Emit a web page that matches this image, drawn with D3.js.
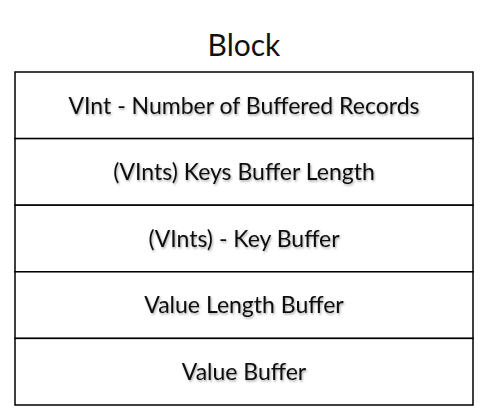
<!DOCTYPE html>
<html>
<head>
<meta charset="utf-8">
<script src="https://cdn.jsdelivr.net/npm/d3@7"></script>
<style>
body { margin: 0; background: #fff; }
text { font-family: Lato, "Open Sans", sans-serif; fill: #111; }
</style>
</head>
<body>
<svg id="chart" width="488" height="410"></svg>
<script>
var title = "Block";
var fields = [
    "VInt - Number of Buffered Records",
    "(VInts) Keys Buffer Length",
    "(VInts) - Key Buffer",
    "Value Length Buffer",
    "Value Buffer"
];

var svg = d3.select("#chart");
var boxLeft = 15, boxRight = 473, boxTop = 72, boxBottom = 405;

var y = d3.scaleBand().domain(fields).range([boxTop, boxBottom]).padding(0);

var defs = svg.append("defs");
var f = defs.append("filter").attr("id", "sh");
f.append("feDropShadow").attr("dx", 1).attr("dy", 1.5).attr("stdDeviation", 1)
    .attr("flood-color", "#000").attr("flood-opacity", 0.35);

svg.append("text")
    .attr("x", (boxLeft + boxRight) / 2)
    .attr("y", 56)
    .attr("text-anchor", "middle")
    .attr("font-size", 30)
    .text(title);

var rows = svg.selectAll("g.row").data(fields).enter().append("g").attr("class", "row");

rows.append("rect")
    .attr("x", boxLeft)
    .attr("y", function(d) { return y(d); })
    .attr("width", boxRight - boxLeft)
    .attr("height", y.bandwidth())
    .attr("fill", "#fff")
    .attr("stroke", "#000")
    .attr("stroke-width", 1.5);

rows.append("text")
    .attr("x", (boxLeft + boxRight) / 2)
    .attr("y", function(d) { return y(d) + y.bandwidth() / 2; })
    .attr("dy", "0.36em")
    .attr("text-anchor", "middle")
    .attr("font-size", 23)
    .attr("filter", "url(#sh)")
    .text(function(d) { return d; });
</script>
</body>
</html>
